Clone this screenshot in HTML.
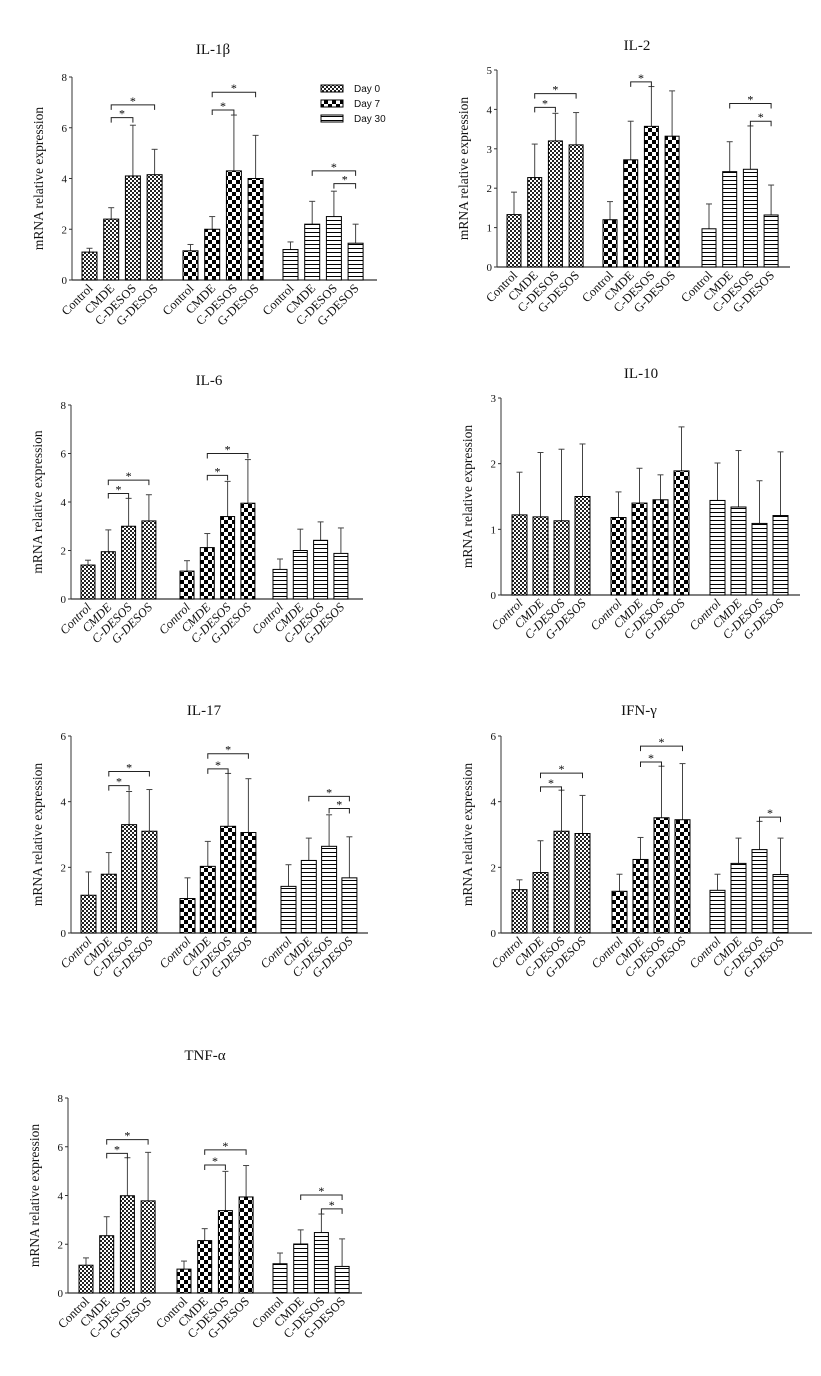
<!DOCTYPE html>
<html><head><meta charset="utf-8"><style>
html,body{margin:0;padding:0;background:#fff;}
svg{display:block;}
text{font-family:"Liberation Serif",serif;fill:#111;}
</style></head><body>
<svg id="chart" width="821" height="1376" viewBox="0 0 821 1376" xmlns="http://www.w3.org/2000/svg">
<defs>
<pattern id="p0" width="4" height="4" patternUnits="userSpaceOnUse"><rect width="4" height="4" fill="#fff"/><rect width="2" height="2" fill="#222"/><rect x="2" y="2" width="2" height="2" fill="#222"/></pattern>
<pattern id="p1" width="8" height="8" patternUnits="userSpaceOnUse"><rect width="8" height="8" fill="#fff"/><rect width="4" height="4" fill="#000"/><rect x="4" y="4" width="4" height="4" fill="#000"/></pattern>
<pattern id="p2" width="4" height="4" patternUnits="userSpaceOnUse"><rect width="4" height="4" fill="#fff"/><rect y="0" width="4" height="1" fill="#000"/></pattern>
</defs>
</svg>
<script>
const categories = ["Control","CMDE","C-DESOS","G-DESOS"];
const groups = ["Day 0","Day 7","Day 30"];

const il1bMean = [1.1,2.4,4.1,4.15, 1.15,2.0,4.3,4.0, 1.2,2.2,2.5,1.45];
const il1bErr  = [1.25,2.85,6.1,5.15, 1.4,2.5,6.5,5.7, 1.5,3.1,3.5,2.2];
const il1bBr   = [[0,1,2,6.4],[0,1,3,6.9],[1,1,2,6.7],[1,1,3,7.4],[2,1,3,4.3],[2,2,3,3.8]];

const il2Mean = [1.33,2.27,3.2,3.1, 1.2,2.72,3.57,3.32, 0.97,2.42,2.48,1.32];
const il2Err  = [1.9,3.12,3.9,3.92, 1.66,3.7,4.58,4.47, 1.6,3.18,3.58,2.08];
const il2Br   = [[0,1,2,4.05],[0,1,3,4.4],[1,1,2,4.7],[2,1,3,4.15],[2,2,3,3.7]];

const il6Mean = [1.4,1.95,3.0,3.22, 1.15,2.12,3.4,3.95, 1.22,2.0,2.42,1.88];
const il6Err  = [1.6,2.85,4.15,4.3, 1.58,2.7,4.85,5.75, 1.65,2.88,3.18,2.93];
const il6Br   = [[0,1,2,4.35],[0,1,3,4.9],[1,1,2,5.1],[1,1,3,6.0]];

const il10Mean = [1.22,1.19,1.13,1.5, 1.18,1.4,1.45,1.89, 1.44,1.34,1.09,1.21];
const il10Err  = [1.87,2.17,2.22,2.3, 1.57,1.93,1.83,2.56, 2.01,2.2,1.74,2.18];
const il10Br   = [];

const il17Mean = [1.15,1.79,3.3,3.1, 1.05,2.03,3.25,3.06, 1.42,2.21,2.64,1.68];
const il17Err  = [1.86,2.45,4.31,4.37, 1.68,2.79,4.86,4.7, 2.08,2.89,3.6,2.93];
const il17Br   = [[0,1,2,4.49],[0,1,3,4.92],[1,1,2,5.0],[1,1,3,5.46],[2,1,3,4.16],[2,2,3,3.79]];

const ifngMean = [1.32,1.84,3.1,3.03, 1.27,2.24,3.51,3.45, 1.3,2.12,2.54,1.78];
const ifngErr  = [1.62,2.81,4.35,4.19, 1.79,2.91,5.08,5.16, 1.79,2.89,3.4,2.89];
const ifngBr   = [[0,1,2,4.45],[0,1,3,4.87],[1,1,2,5.21],[1,1,3,5.69],[2,2,3,3.53]];

const tnfMean = [1.14,2.35,3.99,3.78, 0.98,2.15,3.38,3.94, 1.2,2.01,2.48,1.09];
const tnfErr  = [1.44,3.13,5.55,5.77, 1.31,2.64,4.99,5.23, 1.64,2.59,3.24,2.22];
const tnfBr   = [[0,1,2,5.73],[0,1,3,6.29],[1,1,2,5.25],[1,1,3,5.87],[2,1,3,4.02],[2,2,3,3.45]];

const svg = document.getElementById('chart');
const NS = 'http://www.w3.org/2000/svg';
function mk(tag, attrs, parent){
  const e = document.createElementNS(NS, tag);
  for (const k in attrs) e.setAttribute(k, attrs[k]);
  (parent||svg).appendChild(e);
  return e;
}

function drawPanel(id, title, cfg, means, errs, brs){
  const g = mk('g', {});
  
  
  const yS = v => cfg.y0 - v / cfg.max * (cfg.y0 - cfg.yt);
  const bx = i => cfg.gs[Math.floor(i/4)] + (i%4) * cfg.step;
  const t = mk('text', {x: cfg.tx, y: cfg.ty, 'text-anchor':'middle', 'font-size':'15'}, g);
  t.textContent = title;
  
  
  const ya = mk('line', {x1:cfg.x0, y1:cfg.y0, x2:cfg.x0, y2:cfg.yt, stroke:'#333', 'stroke-width':1}, g);
  
  
  const xa = mk('line', {x1:cfg.x0, y1:cfg.y0, x2:cfg.xe, y2:cfg.y0, stroke:'#333', 'stroke-width':1.3}, g);
  
  
  for (let v = 0; v <= cfg.max + 1e-9; v += cfg.tick){
    const y = yS(v);
    mk('line', {x1:cfg.x0-3, y1:y, x2:cfg.x0, y2:y, stroke:'#333'}, g);
    const tl = mk('text', {x:cfg.x0-5, y:y+4, 'text-anchor':'end', 'font-size':'11'}, g);
    tl.textContent = String(v);
    
    
  }
  const yc = (cfg.y0 + cfg.yt)/2;
  const yt = mk('text', {x:cfg.x0-29, y:yc, 'text-anchor':'middle', 'font-size':'13.5', transform:`rotate(-90 ${cfg.x0-29} ${yc})`}, g);
  yt.textContent = 'mRNA relative expression';
  
  
  for (let i = 0; i < means.length; i++){
    const x = bx(i), gi = Math.floor(i/4);
    const top = yS(means[i]), et = yS(errs[i]), cx = x + cfg.bw/2;
    const el = mk('line', {x1:cx, y1:top, x2:cx, y2:et, stroke:'#444', 'stroke-width':1}, g);
    
    
    mk('line', {x1:cx-3, y1:et, x2:cx+3, y2:et, stroke:'#444', 'stroke-width':1}, g);
    const r = mk('rect', {x:x, y:top, width:cfg.bw, height:cfg.y0-top, fill:`url(#p${gi})`, stroke:'#000', 'stroke-width':1}, g);
    
    
    const lx = cx + 4, ly = cfg.y0 + 9;
    const lab = mk('text', {x:lx, y:ly, 'text-anchor':'end', 'font-size':'12.5', 'font-style':cfg.it?'italic':'normal', transform:`rotate(-45 ${lx} ${ly})`}, g);
    lab.textContent = categories[i%4];
    
    
  }
  for (const b of brs){
    const x1 = bx(b[0]*4+b[1]) + cfg.bw/2, x2 = bx(b[0]*4+b[2]) + cfg.bw/2, y = yS(b[3]);
    const p = mk('path', {d:`M${x1} ${y+5}V${y}H${x2}V${y+5}`, fill:'none', stroke:'#222', 'stroke-width':1}, g);
    
    
    const s = mk('text', {x:(x1+x2)/2, y:y, 'text-anchor':'middle', 'font-size':'12', style:'fill:#000'}, g);
    s.textContent = '*';
    
    
  }
}

drawPanel('il-1b','IL-1β',{x0:72,y0:280,yt:77,xe:377,max:8,tick:2,gs:[82,183,283],step:21.7,bw:15,tx:213,ty:54},il1bMean,il1bErr,il1bBr);
drawPanel('il-2','IL-2',{x0:497,y0:267,yt:70,xe:790,max:5,tick:1,gs:[507,603,702],step:20.7,bw:14,tx:637,ty:50},il2Mean,il2Err,il2Br);
drawPanel('il-6','IL-6',{x0:71,y0:599,yt:405,xe:363,max:8,tick:2,gs:[81,180,273],step:20.3,bw:14,tx:209,ty:385,it:true},il6Mean,il6Err,il6Br);
drawPanel('il-10','IL-10',{x0:501,y0:595,yt:398,xe:800,max:3,tick:1,gs:[512,611,710],step:21,bw:15,tx:641,ty:378,it:true},il10Mean,il10Err,il10Br);
drawPanel('il-17','IL-17',{x0:71,y0:933,yt:736,xe:368,max:6,tick:2,gs:[81,180,281],step:20.3,bw:15,tx:204,ty:715,it:true},il17Mean,il17Err,il17Br);
drawPanel('ifn-g','IFN-γ',{x0:501,y0:933,yt:736,xe:812,max:6,tick:2,gs:[512,612,710],step:21,bw:15,tx:639,ty:715,it:true},ifngMean,ifngErr,ifngBr);
drawPanel('tnf-a','TNF-α',{x0:68,y0:1293,yt:1098,xe:362,max:8,tick:2,gs:[79,177,273],step:20.7,bw:14,tx:205,ty:1060},tnfMean,tnfErr,tnfBr);

const lg = mk('g', {});


groups.forEach((name, i) => {
  const y = 85 + i*15;
  const r = mk('rect', {x:321, y:y, width:22, height:7, fill:`url(#p${i})`, stroke:'#000', 'stroke-width':1}, lg);
  
  
  const t = mk('text', {x:354, y:y+7, 'font-size':'10', style:'font-family:"Liberation Sans",sans-serif'}, lg);
  t.textContent = name;
  
  
});
</script>
</body></html>
